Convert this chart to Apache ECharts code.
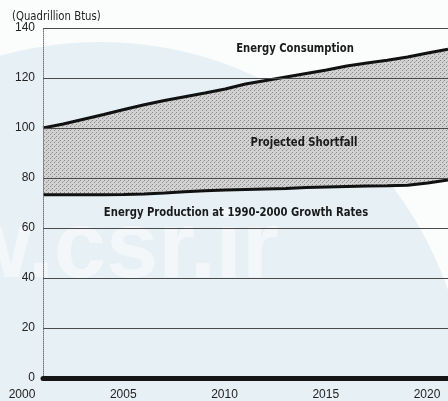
<!DOCTYPE html>
<html>
<head>
<meta charset="utf-8">
<script src="https://cdn.jsdelivr.net/npm/echarts@6/dist/echarts.min.js"></script>
<style>
  html, body { margin: 0; padding: 0; background: #fafbfb; }
  #chart { width: 448px; height: 401px; }
</style>
</head>
<body>
<div id="chart"></div>
<script>
// values (quadrillion Btus)
const years = ['2000', '2001', '2002', '2003', '2004', '2005', '2006', '2007', '2008', '2009', '2010',
               '2011', '2012', '2013', '2014', '2015', '2016', '2017', '2018', '2019', '2020'];
const consumption = [100, 101.6, 103.5, 105.4, 107.4, 109.3, 111, 112.5, 114, 115.6, 117.6,
                     119, 120.4, 121.8, 123.2, 124.8, 126, 127.1, 128.4, 130, 131.5];
const production = [73.3, 73.3, 73.3, 73.3, 73.4, 73.6, 74, 74.5, 74.9, 75.2, 75.4,
                     75.6, 75.8, 76.2, 76.4, 76.6, 76.8, 76.9, 77.1, 78, 79.2];
const yTicks = [0, 20, 40, 60, 80, 100, 120, 140];

// shortfall band = consumption stacked on top of production
const gap = consumption.map((c, i) => +(c - production[i]).toFixed(2));

// small halftone tile for the shaded band
const tile = document.createElement('canvas');
tile.width = 4; tile.height = 4;
const tctx = tile.getContext('2d');
tctx.fillStyle = '#d2d2d2';
tctx.fillRect(0, 0, 4, 4);
tctx.fillStyle = '#8c8c8c';
tctx.fillRect(0, 0, 1, 1);
tctx.fillRect(2, 2, 1, 1);
tctx.fillStyle = '#b0b0b0';
tctx.fillRect(3, 1, 1, 1);

const chart = echarts.init(document.getElementById('chart'));

const labelFont = 'bold 13px "DejaVu Sans Condensed", sans-serif';

const option = {
    backgroundColor: '#fbfcfc',
    animation: false,
    grid: { left: 43, right: -11, top: 28, bottom: 16 },
    graphic: [
        {
            type: 'circle', z: -10, silent: true,
            shape: { cx: 100, cy: 410, r: 368 },
            style: { fill: '#e7f0f5' }
        },
        {
            type: 'text', z: -9, silent: true, left: -42, top: 204,
            style: {
                text: 'w.csr.ir', fill: '#f3f7f9',
                font: 'bold 94px "Liberation Sans", Arial, sans-serif'
            }
        },
        {
            type: 'text', x: 12, y: 10, scaleX: 0.9,
            style: {
                text: '(Quadrillion Btus)', fill: '#222',
                font: '12.5px "DejaVu Sans Condensed", sans-serif'
            }
        },
        {
            type: 'text', x: 295, y: 49, z: 10, scaleX: 0.86,
            style: { text: 'Energy Consumption', fill: '#1a1a1a', align: 'center', verticalAlign: 'middle', font: labelFont }
        },
        {
            type: 'text', x: 304, y: 143, z: 10, scaleX: 0.86,
            style: { text: 'Projected Shortfall', fill: '#1a1a1a', align: 'center', verticalAlign: 'middle', font: labelFont }
        },
        {
            type: 'text', x: 236, y: 213, z: 10, scaleX: 0.86,
            style: {
                text: 'Energy Production at 1990-2000 Growth Rates', fill: '#1a1a1a',
                align: 'center', verticalAlign: 'middle', font: labelFont
            }
        }
    ],
    xAxis: {
        type: 'category',
        data: years,
        boundaryGap: false,
        z: 6,
        axisLine: { lineStyle: { color: '#151515', width: 5 } },
        axisTick: { show: false },
        splitLine: { show: false },
        axisLabel: {
            interval: 4,
            color: '#222', fontSize: 12, margin: 11,
            fontFamily: '"Liberation Sans", Arial, sans-serif',
            padding: [0, 42, 0, 0]
        }
    },
    yAxis: {
        type: 'value',
        min: 0,
        max: 140,
        interval: 20,
        z: 5,
        axisLine: { show: true, lineStyle: { color: '#777', width: 1, type: 'dotted' } },
        axisTick: { show: false },
        splitLine: { lineStyle: { color: '#4a4a4a', width: 1 } },
        axisLabel: {
            color: '#222', fontSize: 12, margin: 8,
            fontFamily: '"Liberation Sans", Arial, sans-serif',
            formatter: v => yTicks.includes(v) ? String(v) : ''
        }
    },
    series: [
        {
            name: 'Energy Production',
            type: 'line',
            stack: 'energy',
            data: production,
            symbol: 'none',
            z: 4,
            lineStyle: { color: '#111', width: 3 }
        },
        {
            name: 'Energy Consumption',
            type: 'line',
            stack: 'energy',
            data: gap,
            symbol: 'none',
            z: 3,
            lineStyle: { color: '#111', width: 3 },
            areaStyle: { color: { image: tile, repeat: 'repeat' }, opacity: 1 }
        }
    ]
};

chart.setOption(option);
</script>
</body>
</html>
